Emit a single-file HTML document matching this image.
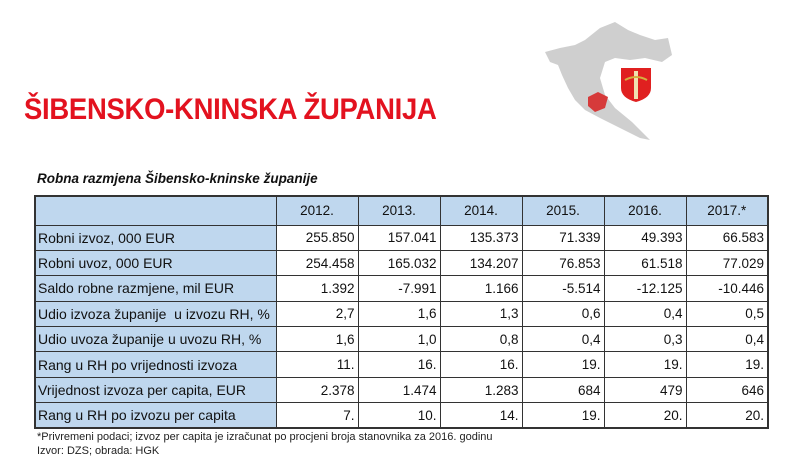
<!DOCTYPE html>
<html><head><meta charset="utf-8"><style>
body{margin:0;width:800px;height:473px;background:#fff;position:relative;overflow:hidden;font-family:"Liberation Sans",Arial,sans-serif;}
.title{position:absolute;left:24px;top:93px;font-size:30px;font-weight:bold;color:#e3121f;white-space:nowrap;transform-origin:0 0;transform:scaleX(0.915);letter-spacing:-0.3px}
.sub{position:absolute;left:37px;top:171px;font-size:13.5px;font-weight:bold;font-style:italic;color:#111}
table{position:absolute;left:34px;top:195px;border-collapse:collapse;font-size:13.5px;color:#111;border:2px solid #333}
td{border:1.5px solid #333;height:25.4px;padding:0 3px;text-align:right;background:#fff;box-sizing:border-box;width:82px}
td:first-child{text-align:left;background:#bfd7ee;width:241px;font-size:14px;padding-left:2px}
tr.h td{background:#bfd7ee;text-align:center;height:29px}
.fn{position:absolute;left:37px;font-size:11px;color:#222}
</style></head><body>
<svg style="position:absolute;left:540px;top:15px" width="140" height="130" viewBox="540 15 140 130">
<path d="M545 52 L560 48 L575 45 L585 40 L600 28 L615 22 L628 30 L640 35 L655 40 L668 38 L672 55 L662 62 L645 58 L630 60 L615 58 L605 62 L600 78 L605 95 L615 108 L632 122 L650 140 L640 138 L620 128 L600 118 L585 110 L575 100 L568 88 L562 75 L558 65 L550 62 Z" fill="#cfcfcf"/>
<path d="M588 97 L598 92 L608 97 L605 108 L595 112 L588 106 Z" fill="#d63a3a"/>
<path d="M621 68 L651 68 L651 88 Q651 98 636 102 Q621 98 621 88 Z" fill="#e02020"/>
<rect x="634" y="71" width="4" height="28" fill="#f0e0b0"/>
<path d="M625 80 Q636 74 647 80" stroke="#d4b040" stroke-width="2" fill="none"/>
</svg>
<div class="title">ŠIBENSKO-KNINSKA ŽUPANIJA</div>
<div class="sub">Robna razmjena Šibensko-kninske županije</div>
<table>
<tr class="h"><td></td><td>2012.</td><td>2013.</td><td>2014.</td><td>2015.</td><td>2016.</td><td>2017.*</td></tr>
<tr><td>Robni izvoz, 000 EUR</td><td>255.850</td><td>157.041</td><td>135.373</td><td>71.339</td><td>49.393</td><td>66.583</td></tr>
<tr><td>Robni uvoz, 000 EUR</td><td>254.458</td><td>165.032</td><td>134.207</td><td>76.853</td><td>61.518</td><td>77.029</td></tr>
<tr><td>Saldo robne razmjene, mil EUR</td><td>1.392</td><td>-7.991</td><td>1.166</td><td>-5.514</td><td>-12.125</td><td>-10.446</td></tr>
<tr><td>Udio izvoza županije &nbsp;u izvozu RH, %</td><td>2,7</td><td>1,6</td><td>1,3</td><td>0,6</td><td>0,4</td><td>0,5</td></tr>
<tr><td>Udio uvoza županije u uvozu RH, %</td><td>1,6</td><td>1,0</td><td>0,8</td><td>0,4</td><td>0,3</td><td>0,4</td></tr>
<tr><td>Rang u RH po vrijednosti izvoza</td><td>11.</td><td>16.</td><td>16.</td><td>19.</td><td>19.</td><td>19.</td></tr>
<tr><td>Vrijednost izvoza per capita, EUR</td><td>2.378</td><td>1.474</td><td>1.283</td><td>684</td><td>479</td><td>646</td></tr>
<tr><td>Rang u RH po izvozu per capita</td><td>7.</td><td>10.</td><td>14.</td><td>19.</td><td>20.</td><td>20.</td></tr>
</table>
<div class="fn" style="top:431px">*Privremeni podaci; izvoz per capita je izračunat po procjeni broja stanovnika za 2016. godinu</div>
<div class="fn" style="top:445px">Izvor: DZS; obrada: HGK</div>
</body></html>
